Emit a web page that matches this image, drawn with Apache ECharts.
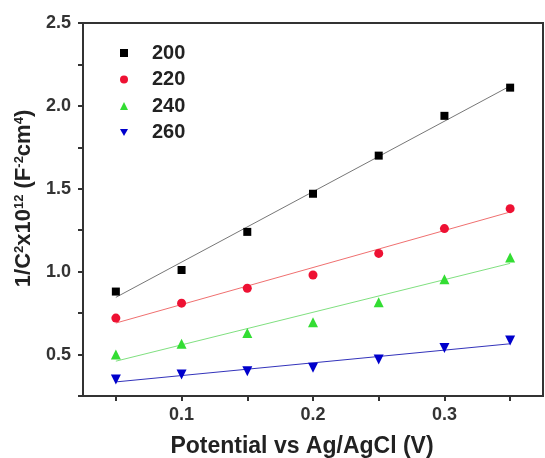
<!DOCTYPE html>
<html>
<head>
<meta charset="utf-8">
<script src="https://cdn.jsdelivr.net/npm/echarts@6/dist/echarts.min.js"></script>
<style>html,body{margin:0;padding:0;background:#fff}#c{width:545px;height:458px}</style>
</head>
<body>
<div id="c"></div>
<script>
const potential = [0.05, 0.10, 0.15, 0.20, 0.25, 0.30, 0.35];
const seriesNames = ['200', '220', '240', '260'];
const values200 = [0.88, 1.01, 1.24, 1.47, 1.70, 1.94, 2.11];
const values220 = [0.72, 0.81, 0.90, 0.98, 1.11, 1.26, 1.38];
const values240 = [0.50, 0.565, 0.63, 0.695, 0.815, 0.955, 1.085];
const values260 = [0.35, 0.38, 0.40, 0.42, 0.47, 0.54, 0.585];
// fitted line end points (at x = 0.05 and x = 0.35)
const fitX = [0.05, 0.35];
const fit200 = [0.845, 2.12];
const fit220 = [0.69, 1.36];
const fit240 = [0.46, 1.05];
const fit260 = [0.335, 0.565];
const xTicks = [0.05, 0.10, 0.15, 0.20, 0.25, 0.30, 0.35];
const xLabels = [0.1, 0.2, 0.3];

const allValues = [values200, values220, values240, values260];
const allFits = [fit200, fit220, fit240, fit260];
const markerColors = ['#000000', '#ee1133', '#33dd33', '#0000cc'];
const lineColors = ['#777777', '#f07070', '#80e080', '#3333bb'];
const symbols = ['rect', 'circle', 'triangle', 'triangle'];
const legendIcons = ['rect', 'circle', 'triangle', 'path://M0,0 L10,0 L5,9 Z'];
const rotates = [0, 0, 0, 180];
const sizes = [8, 9, 10, 10];

const FONT = '"Liberation Sans", Arial, sans-serif';
const series = [];
allFits.forEach((f, i) => {
  series.push({
    type: 'line', name: 'fit' + seriesNames[i], data: fitX.map((x, j) => [x, f[j]]),
    showSymbol: false, silent: true, lineStyle: {color: lineColors[i], width: 1}, z: 2
  });
});
allValues.forEach((v, i) => {
  series.push({
    type: 'scatter', name: seriesNames[i], data: potential.map((x, j) => [x, v[j]]),
    symbol: symbols[i], symbolRotate: rotates[i], symbolSize: sizes[i],
    itemStyle: {color: markerColors[i], opacity: 1}, z: 3
  });
});

const chart = echarts.init(document.getElementById('c'), null, {renderer: 'canvas'});
chart.setOption({
  animation: false,
  backgroundColor: '#fff',
  grid: {left: 83, top: 23, right: 2, bottom: 62, containLabel: false, outerBoundsMode: 'none',
    show: true, borderColor: '#333', borderWidth: 2, backgroundColor: 'transparent'},
  legend: {
    data: seriesNames.map((n, i) => ({name: n, icon: legendIcons[i]})),
    orient: 'vertical', left: 115, top: 38, itemGap: 6.5,
    itemWidth: 8, itemHeight: 8,
    textStyle: {fontFamily: FONT, fontWeight: 'bold', fontSize: 20, color: '#222', lineHeight: 20, padding: [0, 0, 0, 19]}
  },
  xAxis: {
    type: 'value', min: 0.025, max: 0.375,
    name: 'Potential vs Ag/AgCl (V)', nameLocation: 'middle', nameGap: 39,
    nameTextStyle: {fontFamily: FONT, fontWeight: 'bold', fontSize: 23, color: '#222', padding: [0, 22, 0, 0]},
    axisLine: {show: true, onZero: false, lineStyle: {color: '#333', width: 2}},
    axisTick: {show: true, inside: false, length: 5, lineStyle: {color: '#333', width: 2}, customValues: xTicks},
    axisLabel: {customValues: xLabels, margin: 10, fontFamily: FONT, fontWeight: 'bold', fontSize: 18, color: '#333',
      formatter: v => v.toFixed(1)},
    splitLine: {show: false}
  },
  yAxis: {
    type: 'value', min: 0.25, max: 2.5, interval: 0.25,
    name: '1/C{s|2}x10{s|12} (F{s|-2}cm{s|4})', nameLocation: 'middle', nameRotate: 90, nameGap: 44,
    nameTextStyle: {fontFamily: FONT, fontWeight: 'bold', fontSize: 22, color: '#222', padding: [0, 0, 0, 22],
      rich: {s: {fontFamily: FONT, fontWeight: 'bold', fontSize: 13, color: '#222', verticalAlign: 'top', padding: [0, 0, 10, 0]}}},
    axisLine: {show: true, onZero: false, lineStyle: {color: '#333', width: 2}},
    axisTick: {show: true, inside: false, length: 5, lineStyle: {color: '#333', width: 2}},
    axisLabel: {margin: 12, fontFamily: FONT, fontWeight: 'bold', fontSize: 18, color: '#333',
      formatter: v => (Math.abs(v * 2 - Math.round(v * 2)) < 1e-6 ? v.toFixed(1) : '')},
    splitLine: {show: false}
  },
  series: series
});
</script>
</body>
</html>
